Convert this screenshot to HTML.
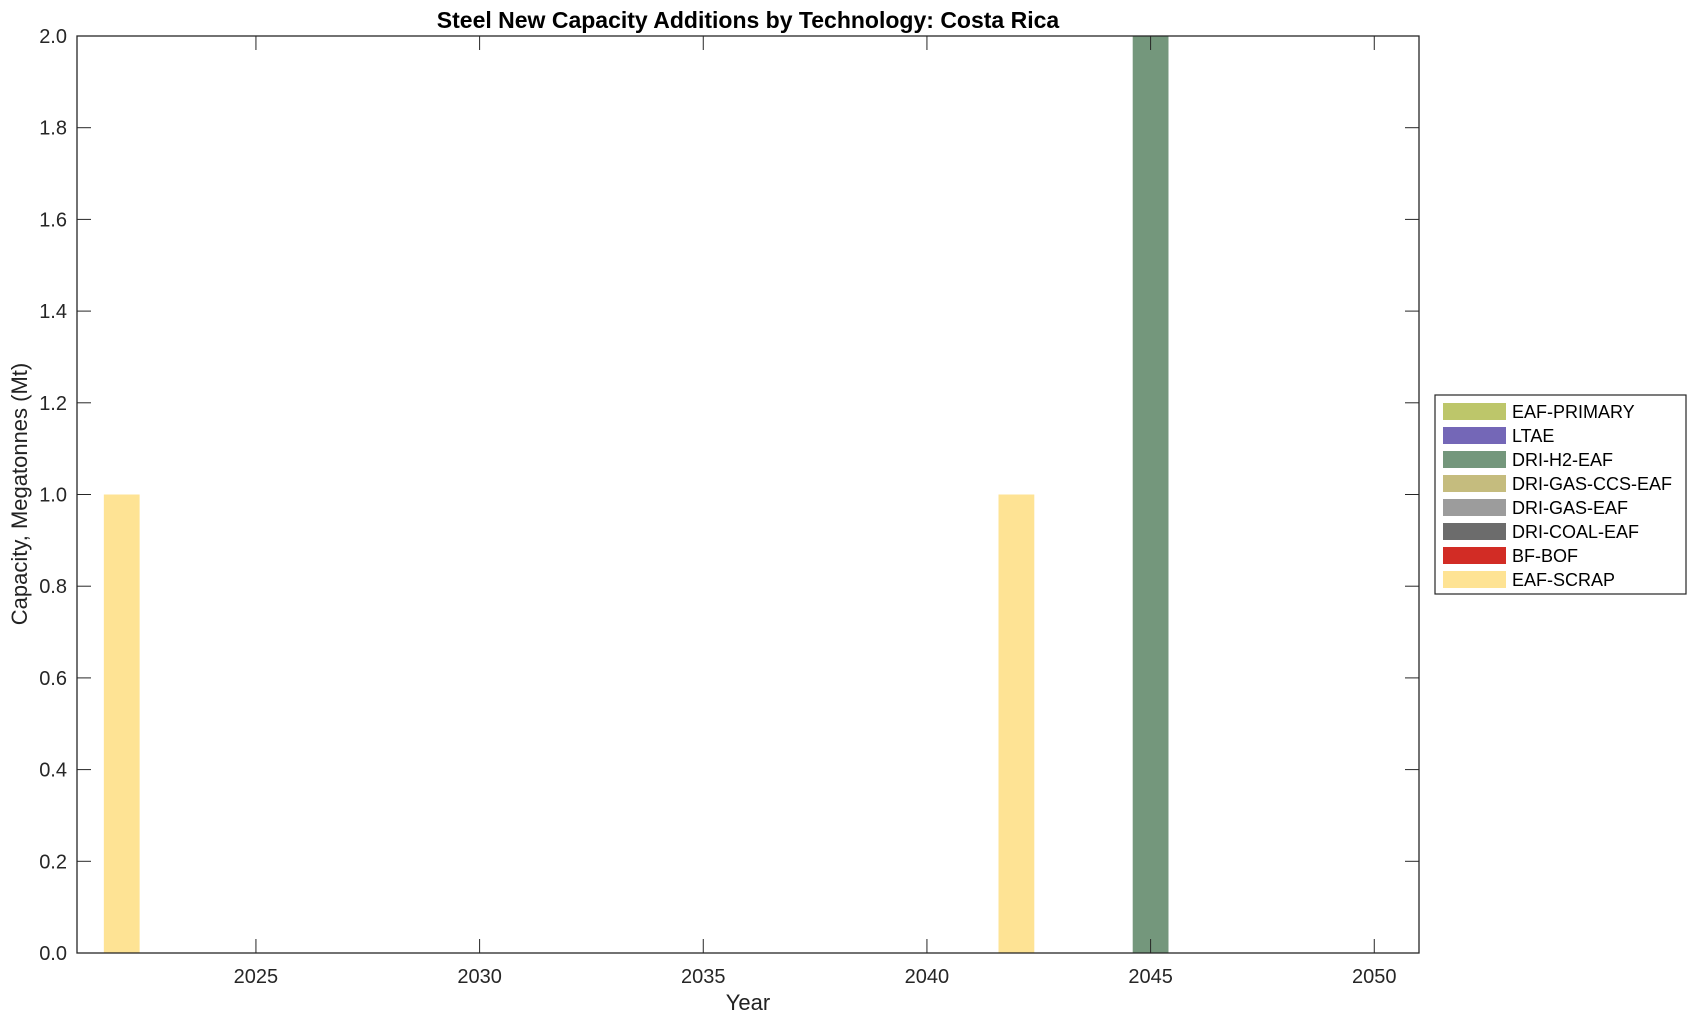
<!DOCTYPE html>
<html><head><meta charset="utf-8"><style>
body{margin:0;background:#fff;}
svg{display:block;font-family:"Liberation Sans",sans-serif;}
</style></head><body>
<svg id="chart" width="1696" height="1021">
<text x="748" y="28" text-anchor="middle" font-size="23" font-weight="bold" fill="#000">Steel New Capacity Additions by Technology: Costa Rica</text>
<g id="plot"></g>
<text x="748" y="1010" text-anchor="middle" font-size="22" fill="#222">Year</text>
<text transform="translate(27,494) rotate(-90)" text-anchor="middle" font-size="22" fill="#222">Capacity, Megatonnes (Mt)</text>
<g id="legend"></g>
</svg>
<script>
const years=[2022,2042,2045];
const seriesNames=["EAF-PRIMARY","LTAE","DRI-H2-EAF","DRI-GAS-CCS-EAF","DRI-GAS-EAF","DRI-COAL-EAF","BF-BOF","EAF-SCRAP"];
const seriesColors=["#bdc66a","#7467b7","#74977c","#c5bc7e","#9c9c9c","#6c6c6c","#d22c25","#fee394"];
const eafScrap=[1,1,0];
const driH2=[0,0,2.5];
const xTicks=[2025,2030,2035,2040,2045,2050];
const yTicks=[0,0.2,0.4,0.6,0.8,1.0,1.2,1.4,1.6,1.8,2.0];
const L=77,R=1419,T=36,B=953,x0=2021,x1=2051,y0=0,y1=2;
const NS="http://www.w3.org/2000/svg";
function X(v){return L+(v-x0)/(x1-x0)*(R-L);}
function Y(v){return B-(v-y0)/(y1-y0)*(B-T);}
function mk(tag,a,p){const e=document.createElementNS(NS,tag);for(const k in a)e.setAttribute(k,a[k]);p.appendChild(e);return e;}
const plot=document.getElementById('plot');
const clip=mk('clipPath',{id:'pc'},plot);mk('rect',{x:L,y:T,width:R-L,height:B-T},clip);
const bars=mk('g',{'clip-path':'url(#pc)'},plot);
const bw=0.8;
years.forEach((yr,i)=>{
  let base=0;
  [[driH2,2,'dri-h2-eaf'],[eafScrap,7,'eaf-scrap']].forEach(([arr,ci,nm])=>{
    const v=arr[i]; if(!v) return;
    const r=mk('rect',{x:X(yr-bw/2),y:Y(base+v),width:X(yr+bw/2)-X(yr-bw/2),height:Y(base)-Y(base+v),fill:seriesColors[ci]},bars);
    
    
    base+=v;
  });
});
mk('rect',{x:L,y:T,width:R-L,height:B-T,fill:'none',stroke:'#262626','stroke-width':1.3},plot);
xTicks.forEach(t=>{
  const x=X(t);
  mk('line',{x1:x,x2:x,y1:B,y2:B-14,stroke:'#262626'},plot);
  mk('line',{x1:x,x2:x,y1:T,y2:T+14,stroke:'#262626'},plot);
  const tx=mk('text',{x:x,y:B+30,'text-anchor':'middle','font-size':20,fill:'#262626'},plot);
  tx.textContent=t;
  
  
});
yTicks.forEach(t=>{
  const y=Y(t);
  mk('line',{x1:L,x2:L+14,y1:y,y2:y,stroke:'#262626'},plot);
  mk('line',{x1:R,x2:R-14,y1:y,y2:y,stroke:'#262626'},plot);
  const tx=mk('text',{x:L-10,y:y+7,'text-anchor':'end','font-size':20,fill:'#262626'},plot);
  tx.textContent=t.toFixed(1);
  
  
});
const lg=document.getElementById('legend');
mk('rect',{x:1435,y:395,width:251,height:199,fill:'#fff',stroke:'#262626','stroke-width':1.2},lg);
seriesNames.forEach((n,i)=>{
  const cy=411+i*24;
  const g=mk('g',{},lg);
  
  
  mk('rect',{x:1443,y:cy-8,width:63,height:17,fill:seriesColors[i]},g);
  const t=mk('text',{x:1512,y:cy+7,'font-size':18,fill:'#000'},g);
  t.textContent=n;
});
</script>
</body></html>
